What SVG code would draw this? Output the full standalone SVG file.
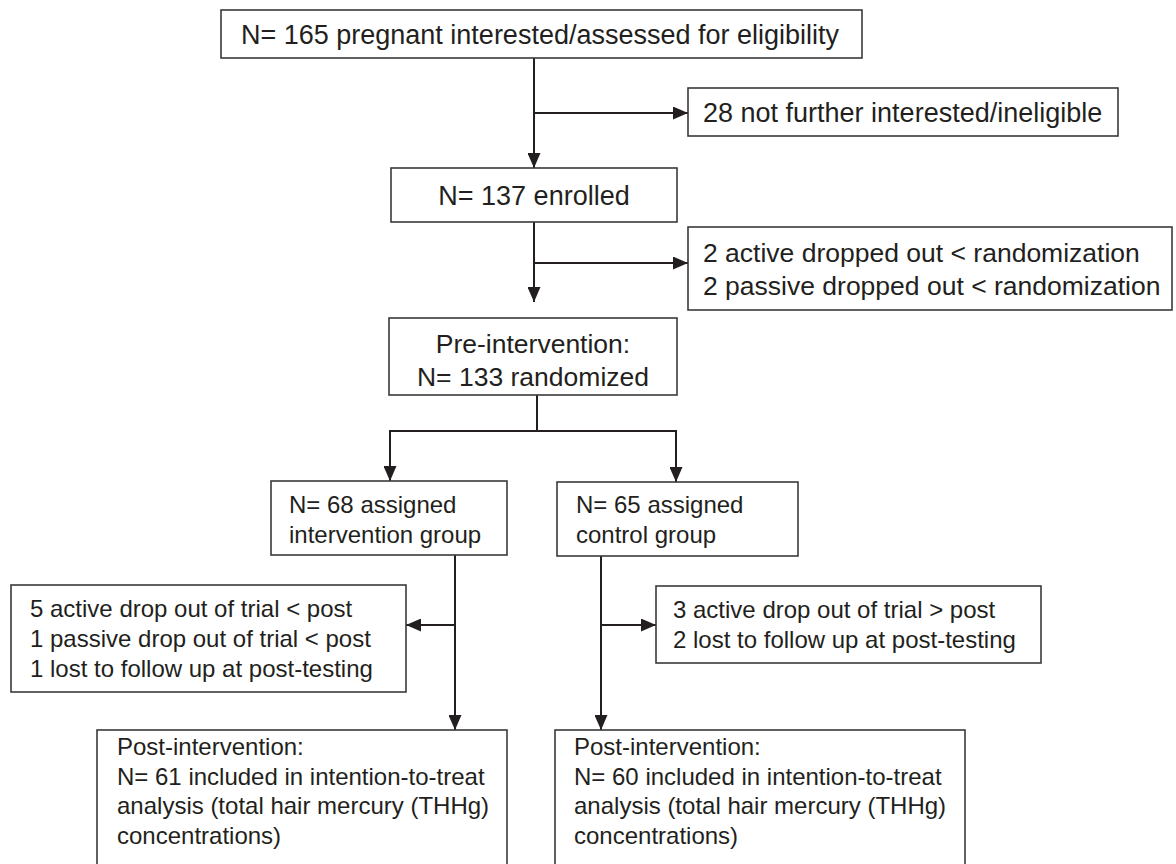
<svg xmlns="http://www.w3.org/2000/svg" width="1176" height="864" viewBox="0 0 1176 864">
<defs>
<marker id="ah" markerUnits="userSpaceOnUse" markerWidth="15" markerHeight="13" refX="15" refY="6.5" orient="auto">
<path d="M0,0 L15,6.5 L0,13 z" fill="#231f20"/>
</marker>
<style>
.box{fill:#fff;stroke:#3a3a3a;stroke-width:1.6}
.t{font-family:"Liberation Sans",Arial,Helvetica,sans-serif;fill:#231f20}
.big{font-size:27px}
.mid{font-size:26.5px}
.sm{font-size:24px}
.c{text-anchor:middle}
.ln{fill:none;stroke:#231f20;stroke-width:2}
</style>
</defs>
<rect width="1176" height="864" fill="#fff"/>
<g id="connectors">
<line class="ln" x1="534" y1="58" x2="534" y2="168" marker-end="url(#ah)"/>
<line class="ln" x1="534" y1="113" x2="688" y2="113" marker-end="url(#ah)"/>
<line class="ln" x1="534" y1="222" x2="534" y2="302" marker-end="url(#ah)"/>
<line class="ln" x1="534" y1="263" x2="688" y2="263" marker-end="url(#ah)"/>
<line class="ln" x1="537" y1="395" x2="537" y2="431"/>
<path class="ln" d="M390,431 H676"/>
<line class="ln" x1="390" y1="430" x2="390" y2="481" marker-end="url(#ah)"/>
<line class="ln" x1="676" y1="430" x2="676" y2="482" marker-end="url(#ah)"/>
<line class="ln" x1="455" y1="555" x2="455" y2="730" marker-end="url(#ah)"/>
<line class="ln" x1="455" y1="625" x2="406" y2="625" marker-end="url(#ah)"/>
<line class="ln" x1="601" y1="556" x2="601" y2="730" marker-end="url(#ah)"/>
<line class="ln" x1="601" y1="625" x2="656" y2="625" marker-end="url(#ah)"/>
</g>
<g id="n-assessed">
<rect class="box" x="221" y="10" width="641" height="48"/>
<text class="t big c" x="540" y="44">N= 165 pregnant interested/assessed for eligibility</text>
</g>
<g id="n-ineligible">
<rect class="box" x="688" y="88" width="430" height="48"/>
<text class="t big" x="703" y="122">28 not further interested/ineligible</text>
</g>
<g id="n-enrolled">
<rect class="box" x="391" y="168" width="286" height="54"/>
<text class="t big c" x="534" y="205">N= 137 enrolled</text>
</g>
<g id="n-dropped">
<rect class="box" x="688" y="227" width="484" height="83"/>
<text class="t mid" x="703" y="262">2 active dropped out &lt; randomization</text>
<text class="t mid" x="703" y="295">2 passive dropped out &lt; randomization</text>
</g>
<g id="n-randomized">
<rect class="box" x="389" y="318" width="288" height="77"/>
<text class="t mid c" x="533" y="353">Pre-intervention:</text>
<text class="t mid c" x="533" y="386">N= 133 randomized</text>
</g>
<g id="n-intervention">
<rect class="box" x="271" y="481" width="236" height="74"/>
<text class="t sm" x="289" y="513">N= 68 assigned</text>
<text class="t sm" x="289" y="543">intervention group</text>
</g>
<g id="n-control">
<rect class="box" x="557" y="482" width="241" height="74"/>
<text class="t sm" x="576" y="513">N= 65 assigned</text>
<text class="t sm" x="576" y="543">control group</text>
</g>
<g id="n-int-loss">
<rect class="box" x="11" y="585" width="395" height="107"/>
<text class="t sm" x="30" y="617">5 active drop out of trial &lt; post</text>
<text class="t sm" x="30" y="647">1 passive drop out of trial &lt; post</text>
<text class="t sm" x="30" y="677">1 lost to follow up at post-testing</text>
</g>
<g id="n-ctl-loss">
<rect class="box" x="656" y="586" width="385" height="77"/>
<text class="t sm" x="673" y="618">3 active drop out of trial &gt; post</text>
<text class="t sm" x="673" y="648">2 lost to follow up at post-testing</text>
</g>
<g id="n-int-post">
<rect class="box" x="97" y="730" width="410" height="145"/>
<text class="t sm" x="117" y="755">Post-intervention:</text>
<text class="t sm" x="117" y="784.5">N= 61 included in intention-to-treat</text>
<text class="t sm" x="117" y="814">analysis (total hair mercury (THHg)</text>
<text class="t sm" x="117" y="843.5">concentrations)</text>
</g>
<g id="n-ctl-post">
<rect class="box" x="555" y="730" width="410" height="145"/>
<text class="t sm" x="574" y="755">Post-intervention:</text>
<text class="t sm" x="574" y="784.5">N= 60 included in intention-to-treat</text>
<text class="t sm" x="574" y="814">analysis (total hair mercury (THHg)</text>
<text class="t sm" x="574" y="843.5">concentrations)</text>
</g>
</svg>
